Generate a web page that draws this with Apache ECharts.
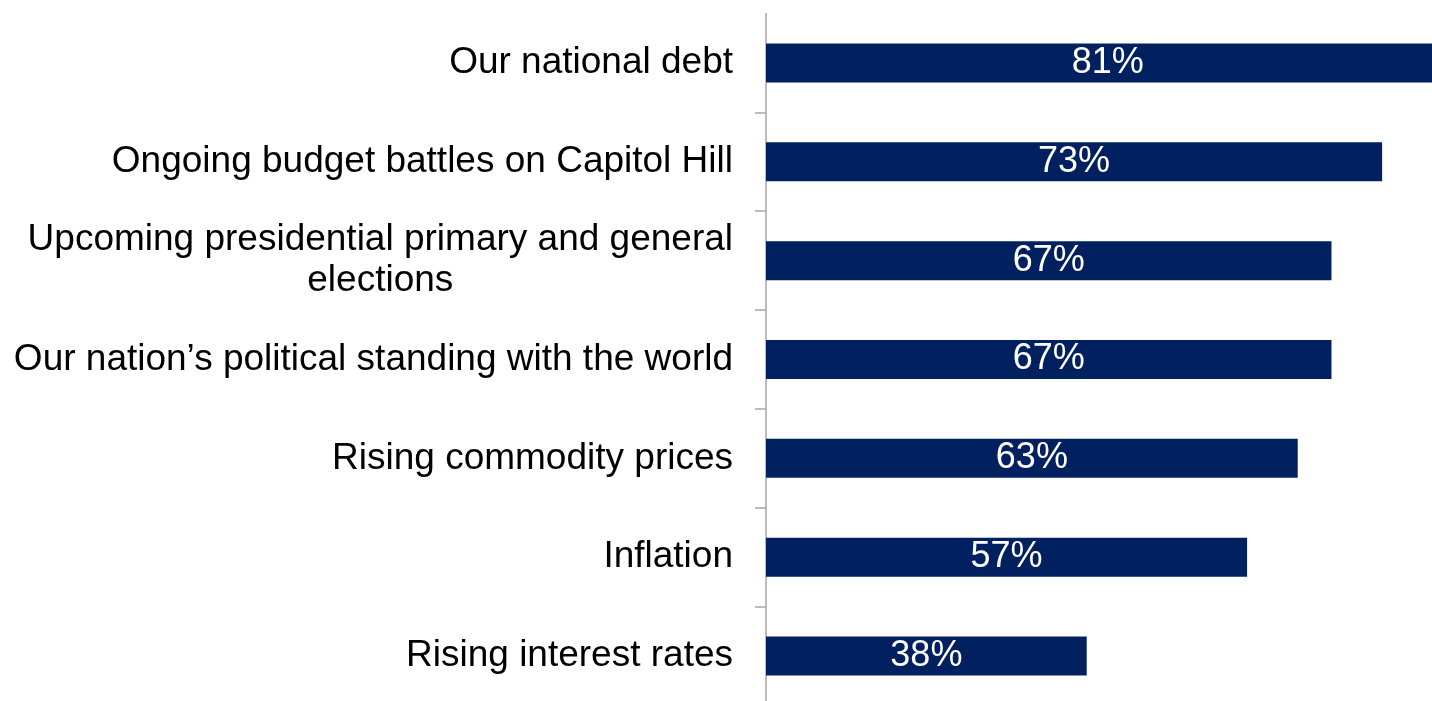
<!DOCTYPE html>
<html>
<head>
<meta charset="utf-8">
<script src="https://cdn.jsdelivr.net/npm/echarts@6/dist/echarts.min.js"></script>
<style>
  html, body { margin: 0; padding: 0; background: #ffffff; }
  #chart { width: 1432px; height: 701px; }
</style>
</head>
<body>
<div id="chart"></div>
<script>
// Concerns, top to bottom
const categories = [
  'Our national debt',
  'Ongoing budget battles on Capitol Hill',
  'Upcoming presidential primary and general\nelections',
  'Our nation\u2019s political standing with the world',
  'Rising commodity prices',
  'Inflation',
  'Rising interest rates'
];
// Share of respondents (%)
const values = [81, 73, 67, 67, 63, 57, 38];

const FONT = '"Liberation Sans", Arial, sans-serif';
const NAVY = '#002060';

const chart = echarts.init(document.getElementById('chart'), null, { renderer: 'canvas' });

chart.setOption({
  animation: false,
  backgroundColor: '#ffffff',
  // plot area runs past the right edge so the longest bar is cut off
  grid: { left: 766, top: 13.5, width: 844, height: 692, outerBoundsMode: 'none', containLabel: false },
  xAxis: {
    type: 'value',
    min: 0,
    max: 100,
    show: false
  },
  yAxis: {
    type: 'category',
    inverse: true,
    data: categories,
    axisLine: { show: true, lineStyle: { color: '#a6a6a6', width: 1.5 } },
    axisTick: {
      show: true,
      length: 11,
      interval: function (i) { return i !== 0; },
      lineStyle: { color: '#a6a6a6', width: 1.5 }
    },
    splitLine: { show: false },
    axisLabel: {
      margin: 33,
      align: 'right',
      formatter: function (v) {
        return v.split('\n').map(function (s) { return '{c|' + s + '}'; }).join('\n');
      },
      rich: {
        c: {
          fontFamily: FONT,
          fontSize: 37,
          lineHeight: 41,
          color: '#000000',
          align: 'center'
        }
      }
    }
  },
  series: [{
    type: 'bar',
    data: values,
    barWidth: 39,
    itemStyle: { color: NAVY },
    label: {
      show: true,
      position: 'inside',
      formatter: '{c}%',
      color: '#ffffff',
      fontFamily: FONT,
      fontSize: 36
    }
  }]
});
</script>
</body>
</html>
